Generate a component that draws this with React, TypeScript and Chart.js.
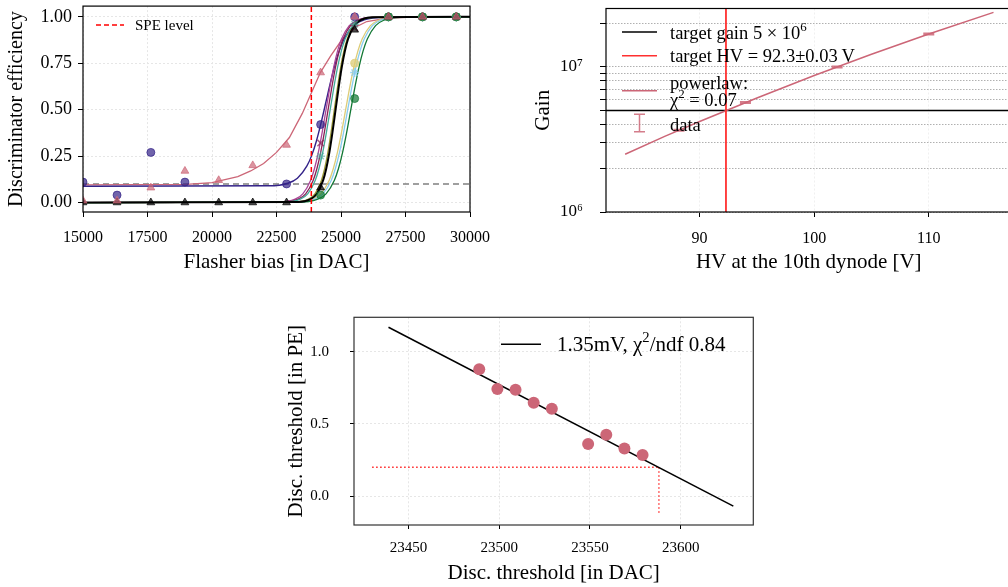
import React, { useEffect, useRef } from 'react';
import { Chart, registerables } from 'chart.js';

Chart.register(...registerables);

const SERIF = "'Liberation Serif', 'DejaVu Serif', 'Times New Roman', serif";

// ===== Panel 1: discriminator efficiency vs flasher bias =====
const biasDAC = [15000, 16320, 17630, 18950, 20260, 21580, 22890, 24210, 25530, 26840, 28160, 29470];
const effRose = [0.01, 0.01, 0.08, 0.17, 0.12, 0.2, 0.31, 0.7, 1.0, 1.0, 1.0, 1.0];
const effIndigo = [0.11, 0.04, 0.27, 0.11, null, null, 0.1, 0.42, 1.0, 1.0, 1.0, 1.0];
const effWine = [null, null, null, null, null, null, null, 0.32, 0.94, 1.0, 1.0, 1.0];
const effTeal = [null, null, null, null, null, null, null, 0.25, 0.96, 1.0, 1.0, 1.0];
const effSand = [null, null, null, null, null, null, null, null, 0.75, 1.0, 1.0, 1.0];
const effCyan = [null, null, null, null, null, null, null, null, 0.7, 1.0, 1.0, 1.0];
const effGreen = [null, null, null, null, null, null, null, 0.04, 0.56, 1.0, 1.0, 1.0];
const effBlack = [0, 0, 0, 0, 0, 0, 0, 0.08, 0.93, 1.0, 1.0, 1.0];

// fitted curves
const fitXRose = [15000, 19000, 20000, 21000, 21500, 22000, 22500, 23000, 23500, 23850, 24200, 24600, 25000, 25500, 26000, 26800, 27500, 30000];
const fitYRose = [0.095, 0.098, 0.107, 0.14, 0.17, 0.21, 0.27, 0.35, 0.48, 0.59, 0.7, 0.79, 0.87, 0.94, 0.975, 0.993, 0.998, 1.0];
const fitYIndigo = [0.088, 0.09, 0.104, 0.131, 0.197, 0.254, 0.333, 0.433, 0.544, 0.655, 0.755, 0.834, 0.891, 0.957, 0.984, 0.998, 1.0];
const fitYStep = [0, 0.0025, 0.018, 0.047, 0.119, 0.182, 0.269, 0.378, 0.5, 0.622, 0.731, 0.818, 0.881, 0.953, 0.982, 0.9975, 1.0];
const fitXIndigo = [15000, 22200, 22940, 23310, 23680, 23865, 24050, 24235, 24420, 24605, 24790, 24975, 25160, 25530, 25900, 26640, 30000];
const fitXPurple = [15000, 22620, 23220, 23520, 23820, 23970, 24120, 24270, 24420, 24570, 24720, 24870, 25020, 25320, 25620, 26220, 30000];
const fitXWine = [15000, 22760, 23340, 23630, 23920, 24065, 24210, 24355, 24500, 24645, 24790, 24935, 25080, 25370, 25660, 26240, 30000];
const fitXTeal = [15000, 22840, 23420, 23710, 24000, 24145, 24290, 24435, 24580, 24725, 24870, 25015, 25160, 25450, 25740, 26320, 30000];
const fitXOlive = [15000, 23240, 23740, 23990, 24240, 24365, 24490, 24615, 24740, 24865, 24990, 25115, 25240, 25490, 25740, 26240, 30000];
const fitXBlack = [15000, 23338, 23822, 24064, 24306, 24427, 24548, 24669, 24790, 24911, 25032, 25153, 25274, 25516, 25758, 26242, 30000];
const fitXSand = [15000, 23260, 23900, 24220, 24540, 24700, 24860, 25020, 25180, 25340, 25500, 25660, 25820, 26140, 26460, 27100, 30000];
const fitXCyan = [15000, 23340, 23980, 24300, 24620, 24780, 24940, 25100, 25260, 25420, 25580, 25740, 25900, 26220, 26540, 27180, 30000];
const fitXGreen = [15000, 23460, 24100, 24420, 24740, 24900, 25060, 25220, 25380, 25540, 25700, 25860, 26020, 26340, 26660, 27300, 30000];

const speLevelDAC = 23850;
const noiseLevel = 0.1;
const biasRange = [15000, 30000];
const effRange = [-0.051, 1.058];
const biasTicks = [15000, 17500, 20000, 22500, 25000, 27500, 30000];
const effTicks = [0, 0.25, 0.5, 0.75, 1.0];

// ===== Panel 2: gain vs HV =====
const hvData = [88.2, 94.0, 102.0, 110.0];
const gainData = [3.66e6, 5.68e6, 9.97e6, 1.68e7];
const hvFit = [83.5, 87, 90, 95, 100, 105, 110, 115.65];
const gainFit = [2.5e6, 3.33e6, 4.2e6, 6.1e6, 8.7e6, 1.22e7, 1.68e7, 2.37e7];
const targetGain = 5e6;
const targetHV = 92.3;
const hvRange = [81.83, 117.22];
const gainRange = [1e6, 2.52e7];
const hvTicks = [90, 100, 110];
const gainTicks = [1e6, 2e6, 3e6, 4e6, 5e6, 6e6, 7e6, 8e6, 9e6, 1e7, 2e7];

// ===== Panel 3: threshold PE vs DAC =====
const threshDAC = [23489, 23499, 23509, 23519, 23529, 23549, 23559, 23569, 23579];
const threshPE = [0.878, 0.741, 0.737, 0.647, 0.605, 0.36, 0.425, 0.33, 0.284];
const threshFitDAC = [23439, 23629];
const threshFitPE = [1.169, -0.069];
const chosenPE = 0.2;
const chosenDAC = 23588;
const guideStartDAC = 23430;
const guideBottomPE = -0.125;
const dacRange = [23420, 23640];
const peRange = [-0.2, 1.238];
const dacTicks = [23450, 23500, 23550, 23600];
const peTicks = [0, 0.5, 1.0];

// ---------- helpers ----------
const pts = (xs: number[], ys: (number | null)[]) =>
  xs.map((x, i) => ({ x, y: ys[i] })).filter((p) => p.y !== null && p.y !== undefined);

function curve(xs: number[], ys: (number | null)[], color: string, width = 1.3, extra: any = {}) {
  return {
    data: pts(xs, ys),
    borderColor: color,
    backgroundColor: color,
    borderWidth: width,
    pointRadius: 0,
    showLine: true,
    fill: false,
    clip: 0,
    ...extra,
  };
}

function markers(xs: number[], ys: (number | null)[], style: string, color: string, r = 4, bw = 1) {
  return {
    data: pts(xs, ys),
    showLine: false,
    pointStyle: style,
    pointRadius: r,
    pointBackgroundColor: color,
    pointBorderColor: color,
    pointBorderWidth: bw,
    borderColor: color,
    backgroundColor: color,
    clip: 0,
  };
}

type Seg = { t: string; sup?: boolean };

function drawRich(ctx: any, segs: Seg[], x: number, yMid: number, size: number) {
  let cx = x;
  const base = yMid + size * 0.33;
  ctx.fillStyle = '#000';
  ctx.textAlign = 'left';
  ctx.textBaseline = 'alphabetic';
  for (const s of segs) {
    const fs = s.sup ? size * 0.7 : size;
    ctx.font = `${fs}px ${SERIF}`;
    const y = s.sup ? base - size * 0.42 : base;
    ctx.fillText(s.t, cx, y);
    cx += ctx.measureText(s.t).width;
  }
}

const framePlugin = {
  id: 'frame',
  afterDatasetsDraw(chart: any, _args: any, opts: any) {
    const { ctx, chartArea } = chart;
    const { left, top, right, bottom } = chartArea;
    ctx.save();
    ctx.strokeStyle = opts.color || '#000';
    ctx.lineWidth = opts.width || 1;
    ctx.setLineDash([]);
    ctx.strokeRect(left, top, right - left, bottom - top);
    ctx.restore();
  },
};

const legendPlugin = {
  id: 'customLegend',
  afterDraw(chart: any, _args: any, opts: any) {
    if (!opts || !opts.items) return;
    const { ctx, chartArea } = chart;
    const { left, top } = chartArea;
    ctx.save();
    for (const it of opts.items) {
      const y = top + it.y;
      ctx.strokeStyle = it.color;
      ctx.lineWidth = it.width || 1.5;
      ctx.setLineDash(it.dash || []);
      ctx.beginPath();
      if (it.kind === 'errorbar') {
        const cx = left + (opts.x1 + opts.x2) / 2;
        const h = it.h || 9;
        ctx.moveTo(cx, y - h);
        ctx.lineTo(cx, y + h);
        ctx.moveTo(cx - 5.5, y - h);
        ctx.lineTo(cx + 5.5, y - h);
        ctx.moveTo(cx - 5.5, y + h);
        ctx.lineTo(cx + 5.5, y + h);
      } else {
        ctx.moveTo(left + opts.x1, y);
        ctx.lineTo(left + opts.x2, y);
      }
      ctx.stroke();
      ctx.setLineDash([]);
      for (const ln of it.lines) {
        drawRich(ctx, ln.segs, left + opts.textX, top + ln.y, opts.fontSize);
      }
    }
    ctx.restore();
  },
};

function axis(o: any) {
  const vertical = o.vertical;
  return {
    type: o.type || 'linear',
    min: o.min,
    max: o.max,
    afterBuildTicks: (s: any) => {
      s.ticks = o.ticks.map((v: number) => ({ value: v }));
    },
    afterFit: (s: any) => {
      if (vertical) {
        s.width = o.size;
        s.paddingTop = 0;
        s.paddingBottom = 0;
      } else {
        s.height = o.size;
        s.paddingLeft = 0;
        s.paddingRight = 0;
      }
    },
    ticks: {
      color: '#000',
      font: { size: o.tickFont, family: SERIF },
      padding: o.tickPad,
      maxRotation: 0,
      minRotation: 0,
      autoSkip: false,
      callback: o.fmt,
    },
    grid: {
      color: o.gridColor,
      lineWidth: 1,
      drawTicks: true,
      tickLength: o.tickLen,
      tickColor: '#000',
      tickWidth: 1,
    },
    border: { display: false, dash: o.gridDash || [2, 2] },
    title: {
      display: true,
      text: o.title,
      color: '#000',
      font: { size: o.titleFont, family: SERIF, lineHeight: 1.2 },
      padding: vertical ? { top: o.titlePad, bottom: 0 } : { top: 0, bottom: o.titlePad },
    },
  };
}

const common = {
  responsive: false,
  maintainAspectRatio: false,
  animation: false,
  devicePixelRatio: 1,
  events: [],
};

function config1(): any {
  const layers = [
    curve(biasRange, [noiseLevel, noiseLevel], '#808080', 1.5, { borderDash: [6, 4] }),
    curve(fitXRose, fitYRose, '#CC6677'),
    curve(fitXIndigo, fitYIndigo, '#332288', 1.4, { cubicInterpolationMode: 'monotone' }),
    curve(fitXPurple, fitYStep, '#AA4499', 1.3, { cubicInterpolationMode: 'monotone' }),
    curve(fitXWine, fitYStep, '#882255', 1.3, { cubicInterpolationMode: 'monotone' }),
    curve(fitXTeal, fitYStep, '#44AA99', 1.3, { cubicInterpolationMode: 'monotone' }),
    curve(fitXOlive, fitYStep, '#999933', 1.3, { cubicInterpolationMode: 'monotone' }),
    curve(fitXSand, fitYStep, '#DDCC77', 1.3, { cubicInterpolationMode: 'monotone' }),
    curve(fitXCyan, fitYStep, '#88CCEE', 1.3, { cubicInterpolationMode: 'monotone' }),
    curve(fitXGreen, fitYStep, '#117733', 1.3, { cubicInterpolationMode: 'monotone' }),
    curve(fitXBlack, fitYStep, '#000000', 2, { cubicInterpolationMode: 'monotone' }),
    markers(biasDAC, effIndigo, 'circle', 'rgba(51,34,136,0.7)', 4),
    markers(biasDAC, effWine, 'crossRot', 'rgba(136,34,85,0.7)', 4.5, 1.6),
    markers(biasDAC, effTeal, 'star', 'rgba(68,170,153,0.6)', 4.5, 1.4),
    markers(biasDAC, effSand, 'circle', 'rgba(221,204,119,0.75)', 4),
    markers(biasDAC, effCyan, 'star', 'rgba(136,204,238,0.8)', 4.5, 1.4),
    markers(biasDAC, effGreen, 'circle', 'rgba(17,119,51,0.7)', 4),
    markers(biasDAC, effBlack, 'triangle', 'rgba(0,0,0,0.7)', 4.5),
    markers(biasDAC, effRose, 'triangle', 'rgba(204,102,119,0.7)', 4.5),
    curve([speLevelDAC, speLevelDAC], effRange, '#ff0000', 1.5, { borderDash: [5, 3] }),
  ];
  const datasets = layers.map((d, i) => ({ ...d, order: layers.length - i }));
  return {
    type: 'line',
    data: { datasets },
    plugins: [framePlugin, legendPlugin],
    options: {
      ...common,
      layout: { padding: { top: 6, right: 30, left: 0, bottom: 0 } },
      scales: {
        x: axis({
          min: biasRange[0], max: biasRange[1], ticks: biasTicks, size: 68, tickFont: 16, tickPad: 11, tickLen: 5,
          fmt: (v: any) => String(v), gridColor: '#e6e6e6', title: 'Flasher bias [in DAC]', titleFont: 21, titlePad: 5.4,
        }),
        y: axis({
          vertical: true, min: effRange[0], max: effRange[1], ticks: effTicks, size: 83, tickFont: 18, tickPad: 6, tickLen: 5,
          fmt: (v: any) => Number(v).toFixed(2), gridColor: '#e6e6e6', title: 'Discriminator efficiency', titleFont: 20, titlePad: 5,
        }),
      },
      plugins: {
        legend: { display: false },
        tooltip: { enabled: false },
        frame: { color: '#000', width: 1.2 },
        customLegend: {
          x1: 13, x2: 41, textX: 52, fontSize: 15,
          items: [{ kind: 'line', color: '#ff0000', width: 1.5, dash: [5, 3], y: 19, lines: [{ y: 19, segs: [{ t: 'SPE level' }] }] }],
        },
      },
    },
  };
}

function config2(): any {
  const layers = [
    curve(hvRange, [targetGain, targetGain], '#000000', 1.5),
    curve(hvFit, gainFit, '#CC6677', 1.5),
    {
      data: pts(hvData, gainData), showLine: false, pointStyle: 'line', pointRadius: 5.5,
      pointBorderWidth: 3, pointBorderColor: 'rgba(204,102,119,0.85)', pointBackgroundColor: 'rgba(204,102,119,0.85)',
      borderColor: 'rgba(204,102,119,0.85)', clip: 0,
    },
    curve([targetHV, targetHV], gainRange, '#ff3030', 1.8),
  ];
  const datasets = layers.map((d, i) => ({ ...d, order: layers.length - i }));
  return {
    type: 'line',
    data: { datasets },
    plugins: [framePlugin, legendPlugin],
    options: {
      ...common,
      layout: { padding: { top: 6, right: 7, left: 0, bottom: 0 } },
      scales: {
        x: axis({
          min: hvRange[0], max: hvRange[1], ticks: hvTicks, size: 68, tickFont: 16, tickPad: 12, tickLen: 5,
          fmt: (v: any) => String(v), gridColor: '#f0f0f0', title: 'HV at the 10th dynode [V]', titleFont: 21, titlePad: 5.4,
        }),
        y: axis({
          vertical: true, type: 'logarithmic', min: gainRange[0], max: gainRange[1], ticks: gainTicks, size: 76, tickFont: 17,
          tickPad: 17, tickLen: 6, gridDash: [1.5, 1.5],
          fmt: (v: any) => (v === 1e6 ? '10⁶' : v === 1e7 ? '10⁷' : ''), gridColor: '#b0b0b0', title: 'Gain', titleFont: 21, titlePad: 0.4,
        }),
      },
      plugins: {
        legend: { display: false },
        tooltip: { enabled: false },
        frame: { color: '#000', width: 1.2 },
        customLegend: {
          x1: 16, x2: 51, textX: 64, fontSize: 18.5,
          items: [
            { kind: 'line', color: '#000000', width: 1.5, y: 23.5, lines: [{ y: 24.5, segs: [{ t: 'target gain 5 × 10' }, { t: '6', sup: true }] }] },
            { kind: 'line', color: '#ff3030', width: 1.6, y: 47.3, lines: [{ y: 47.3, segs: [{ t: 'target HV = 92.3±0.03\u2009V' }] }] },
            {
              kind: 'line', color: '#CC6677', width: 1.6, y: 82.3,
              lines: [
                { y: 74, segs: [{ t: 'powerlaw:' }] },
                { y: 91.5, segs: [{ t: 'χ' }, { t: '2', sup: true }, { t: ' = 0.07' }] },
              ],
            },
            { kind: 'errorbar', color: 'rgba(204,102,119,0.85)', width: 1.5, h: 8.8, y: 114.5, lines: [{ y: 116, segs: [{ t: 'data' }] }] },
          ],
        },
      },
    },
  };
}

function config3(): any {
  const layers = [
    curve([guideStartDAC, chosenDAC], [chosenPE, chosenPE], '#ff2020', 1.3, { borderDash: [1.5, 2.5] }),
    curve([chosenDAC, chosenDAC], [chosenPE, guideBottomPE], '#ff2020', 1.3, { borderDash: [1.5, 2.5] }),
    curve(threshFitDAC, threshFitPE, '#000000', 1.5),
    markers(threshDAC, threshPE, 'circle', 'rgba(204,102,119,1)', 6, 0),
  ];
  const datasets = layers.map((d, i) => ({ ...d, order: layers.length - i }));
  return {
    type: 'line',
    data: { datasets },
    plugins: [framePlugin, legendPlugin],
    options: {
      ...common,
      layout: { padding: { top: 17.3, right: 16.7, left: 0, bottom: 0 } },
      scales: {
        x: axis({
          min: dacRange[0], max: dacRange[1], ticks: dacTicks, size: 62, tickFont: 15, tickPad: 10, tickLen: 4,
          fmt: (v: any) => String(v), gridColor: '#e6e6e6', title: 'Disc. threshold [in DAC]', titleFont: 21, titlePad: 1.4,
        }),
        y: axis({
          vertical: true, min: peRange[0], max: peRange[1], ticks: peTicks, size: 74, tickFont: 15, tickPad: 21, tickLen: 4,
          fmt: (v: any) => Number(v).toFixed(1), gridColor: '#e6e6e6', title: 'Disc. threshold [in PE]', titleFont: 21, titlePad: 3.4,
        }),
      },
      plugins: {
        legend: { display: false },
        tooltip: { enabled: false },
        frame: { color: '#333333', width: 1.2 },
        customLegend: {
          x1: 147, x2: 187, textX: 203, fontSize: 21,
          items: [
            { kind: 'line', color: '#000000', width: 1.5, y: 27, lines: [{ y: 27, segs: [{ t: '1.35mV, χ' }, { t: '2', sup: true }, { t: '/ndf 0.84' }] }] },
          ],
        },
      },
    },
  };
}

export default function App() {
  const r1 = useRef<HTMLCanvasElement>(null);
  const r2 = useRef<HTMLCanvasElement>(null);
  const r3 = useRef<HTMLCanvasElement>(null);

  useEffect(() => {
    Chart.defaults.font.family = SERIF;
    Chart.defaults.color = '#000';
    const charts = [
      new Chart(r1.current as HTMLCanvasElement, config1()),
      new Chart(r2.current as HTMLCanvasElement, config2()),
      new Chart(r3.current as HTMLCanvasElement, config3()),
    ];
    return () => charts.forEach((c) => c.destroy());
  }, []);

  return (
    <div style={{ position: 'fixed', left: 0, top: 0, width: 1008, height: 587, overflow: 'hidden', background: '#fff' }}>
      <canvas ref={r1} width={500} height={280} style={{ position: 'absolute', left: 0, top: 0, width: 500, height: 280 }} />
      <canvas ref={r2} width={490} height={280} style={{ position: 'absolute', left: 530, top: 0, width: 490, height: 280 }} />
      <canvas ref={r3} width={490} height={287} style={{ position: 'absolute', left: 280, top: 300, width: 490, height: 287 }} />
    </div>
  );
}
